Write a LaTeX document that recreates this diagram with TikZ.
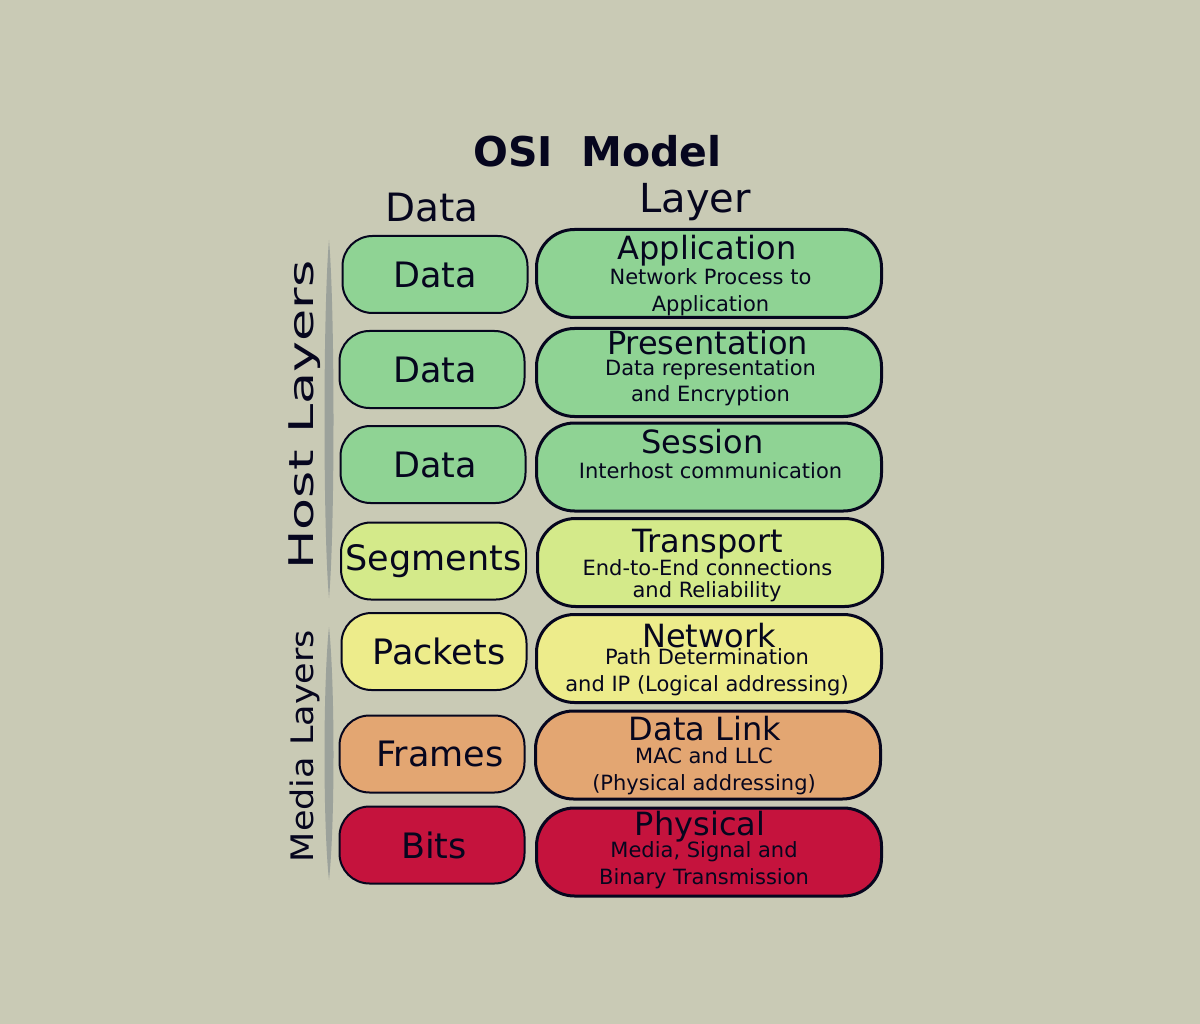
\documentclass[tikz,border=0pt]{standalone}
\usepackage{fontspec}
\setmainfont{DejaVu Sans}
\usepackage{tikz}
\definecolor{bgcol}{HTML}{C9CAB5}
\definecolor{hostgreen}{HTML}{8FD394}
\definecolor{transgreen}{HTML}{D4EA8A}
\definecolor{netyellow}{HTML}{EDEC8B}
\definecolor{linkorange}{HTML}{E3A672}
\definecolor{physred}{HTML}{C5133D}
\definecolor{inkcol}{HTML}{06061E}
\definecolor{barcol}{HTML}{9CA29B}
\tikzset{
  datanode/.style={draw=inkcol, line width=2pt, rounded corners=30pt,
    minimum width=185pt, minimum height=77pt, inner sep=0pt, text=inkcol,
    font=\fontsize{35}{42}\selectfont},
  layernode/.style={draw=inkcol, line width=3pt, rounded corners=38pt,
    minimum width=345pt, minimum height=88pt, inner sep=0pt},
  layertitle/.style={anchor=base, text=inkcol, inner sep=0pt, font=\fontsize{32}{38}\selectfont},
  layersub/.style={anchor=base, text=inkcol, inner sep=0pt, font=\fontsize{21}{25}\selectfont},
  sidelabel/.style={rotate=90, anchor=base, text=inkcol, inner sep=0pt}
}

\begin{document}
\begin{tikzpicture}[x=1pt, y=-1pt]
\useasboundingbox (0,0) rectangle (1200,1024);
\fill[bgcol] (0,0) rectangle (1200,1024);
% headings
\node[anchor=base, text=inkcol, inner sep=0pt, font=\fontsize{41}{49}\selectfont\bfseries] (title) at (597.5,167) {OSI\ \ Model};
\node[anchor=base, text=inkcol, inner sep=0pt, font=\fontsize{39}{47}\selectfont] (datahead) at (432,222) {Data};
\node[anchor=base, text=inkcol, inner sep=0pt, font=\fontsize{40}{48}\selectfont] (layerhead) at (695,213) {Layer};
% side bars
\fill[barcol] (329,240) .. controls (335,310) and (335,530) .. (329,598) .. controls (323,530) and (323,310) .. (329,240);
\fill[barcol] (329,627) .. controls (335,685) and (335,825) .. (329,880) .. controls (323,825) and (323,685) .. (329,627);
\node[sidelabel, font=\fontsize{34}{40}\selectfont] (host) at (313,415) {\scalebox{1.54}[1]{Host Layers}};
\node[sidelabel, font=\fontsize{31}{37}\selectfont] (media) at (313,746) {\scalebox{1.13}[1]{Media Layers}};
% data units
\node[datanode, fill=hostgreen] (d-app) at (435,274.5) {Data};
\node[datanode, fill=hostgreen] (d-pres) at (432,369.5) {\hspace*{6pt}Data};
\node[datanode, fill=hostgreen] (d-sess) at (433,464.5) {\hspace*{4pt}Data};
\node[datanode, fill=transgreen] (d-trans) at (433.5,561) {Segments};
\node[datanode, fill=netyellow] (d-net) at (434,651.5) {\hspace*{10pt}Packets};
\node[datanode, fill=linkorange] (d-link) at (432,754) {\hspace*{16pt}Frames};
\node[datanode, fill=physred] (d-phys) at (432,845) {\hspace*{4pt}Bits};
% layers
\node[layernode, fill=hostgreen] (l-app) at (709,273.5) {};
\node[layernode, fill=hostgreen] (l-pres) at (709,372.5) {};
\node[layernode, fill=hostgreen] (l-sess) at (709,467) {};
\node[layernode, fill=transgreen] (l-trans) at (710,562.5) {};
\node[layernode, fill=netyellow] (l-net) at (709,658.5) {};
\node[layernode, fill=linkorange] (l-link) at (708,755) {};
\node[layernode, fill=physred] (l-phys) at (709,852) {};
% layer texts
\node[layertitle] (app-t) at (707,260) {Application};
\node[layersub] (app-s1) at (710.5,285) {Network Process to};
\node[layersub] (app-s2) at (710.5,312) {Application};
\node[layertitle] (pres-t) at (707.5,355) {Presentation};
\node[layersub] (pres-s1) at (710.5,376) {Data representation};
\node[layersub] (pres-s2) at (710.5,402) {and Encryption};
\node[layertitle] (sess-t) at (702.5,453) {Session};
\node[layersub] (sess-s1) at (710.5,478) {Interhost communication};
\node[layertitle] (trans-t) at (708,552) {Transport};
\node[layersub] (trans-s1) at (707.5,575) {End-to-End connections};
\node[layersub] (trans-s2) at (707,597) {and Reliability};
\node[layertitle] (net-t) at (709,647) {Network};
\node[layersub] (net-s1) at (707,664) {Path Determination};
\node[layersub] (net-s2) at (707,691) {and IP (Logical addressing)};
\node[layertitle] (link-t) at (705,740) {Data Link};
\node[layersub] (link-s1) at (704,763) {MAC and LLC};
\node[layersub] (link-s2) at (704,790) {(Physical addressing)};
\node[layertitle] (phys-t) at (700,835) {Physical};
\node[layersub] (phys-s1) at (704,857) {Media, Signal and};
\node[layersub] (phys-s2) at (704,884) {Binary Transmission};
\end{tikzpicture}
\end{document}
